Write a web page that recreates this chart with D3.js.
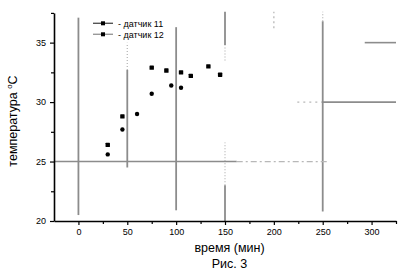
<!DOCTYPE html>
<html>
<head>
<meta charset="utf-8">
<script src="https://cdn.jsdelivr.net/npm/d3@7"></script>
<style>
  body { margin: 0; background: #fff; }
  text { font-family: "Liberation Sans", Arial, sans-serif; fill: #000; }
</style>
</head>
<body>
<div id="chart"></div>
<script>
var series11 = [[30, 26.4], [45, 28.8], [75, 32.9], [90, 32.65], [105, 32.5], [115, 32.2], [133, 33.0], [145, 32.3]];
var series12 = [[30, 25.6], [45, 27.7], [60, 29.0], [75, 30.7], [95, 31.4], [105, 31.2]];
var legendLabels = ['- датчик 11', '- датчик 12'];
var xTicks = [0, 50, 100, 150, 200, 250, 300];
var xMinor = [25, 75, 125, 175, 225, 275, 325];
var yTicks = [20, 25, 30, 35];
var yMinor = [22.5, 27.5, 32.5, 37.5];

// grey reference lines of the scan, in data units
var vLines = [
    { x: 0, from: 20.5, to: 37.1, dash: null },
    { x: 50, from: 24.5, to: 32.7, dash: null },
    { x: 50, from: 32.7, to: 35.0, dash: '1,2' },
    { x: 100, from: 20.9, to: 36.3, dash: null },
    { x: 150, from: 34.8, to: 37.6, dash: null },
    { x: 150, from: 33.5, to: 34.8, dash: '1,2' },
    { x: 150, from: 23.0, to: 26.6, dash: '1,2' },
    { x: 150, from: 20.0, to: 23.0, dash: null },
    { x: 200, from: 36.2, to: 37.6, dash: '2,3' },
    { x: 250, from: 20.8, to: 36.8, dash: null },
    { x: 250, from: 36.8, to: 37.6, dash: '1,2' }
];
var hLines = [
    { y: 25, from: -25, to: 162, dash: null },
    { y: 25, from: 162, to: 257, dash: '6,3,2,3' },
    { y: 30, from: 224, to: 249, dash: '2,4' },
    { y: 30, from: 249, to: 325, dash: null },
    { y: 35, from: 293, to: 325, dash: null }
];

var width = 400, height = 272;

var x = d3.scaleLinear().domain([-25, 325]).range([54, 396]);
var y = d3.scaleLinear().domain([20, 37.5]).range([221, 12.9]);

var svg = d3.select('#chart').append('svg')
            .attr('width', width).attr('height', height);

svg.append('g').selectAll('line').data(vLines).enter()
   .append('line')
   .attr('x1', function(d) { return x(d.x); }).attr('x2', function(d) { return x(d.x); })
   .attr('y1', function(d) { return y(d.from); }).attr('y2', function(d) { return y(d.to); })
   .attr('stroke', function(d) { return d.dash ? '#b8b8b8' : '#8c8c8c'; })
   .attr('stroke-width', function(d) { return d.dash ? 1.3 : 1.8; })
   .attr('stroke-dasharray', function(d) { return d.dash; });

svg.append('g').selectAll('line').data(hLines).enter()
   .append('line')
   .attr('x1', function(d) { return x(d.from); }).attr('x2', function(d) { return x(d.to); })
   .attr('y1', function(d) { return y(d.y); }).attr('y2', function(d) { return y(d.y); })
   .attr('stroke', function(d) { return d.dash ? '#b8b8b8' : '#8c8c8c'; })
   .attr('stroke-width', function(d) { return d.dash ? 1.3 : 1.6; })
   .attr('stroke-dasharray', function(d) { return d.dash; });

// axes
svg.append('g').attr('transform', 'translate(0,' + y(20) + ')')
   .call(d3.axisBottom(x).tickValues(xTicks).tickSize(4).tickSizeOuter(0).tickPadding(4));
svg.append('g').attr('transform', 'translate(0,' + y(20) + ')')
   .call(d3.axisBottom(x).tickValues(xMinor).tickSize(3).tickSizeOuter(0).tickFormat(''))
   .select('.domain').remove();
svg.append('g').attr('transform', 'translate(' + x(-25) + ',0)')
   .call(d3.axisLeft(y).tickValues(yTicks).tickSize(4).tickSizeOuter(0).tickPadding(4));
svg.append('g').attr('transform', 'translate(' + x(-25) + ',0)')
   .call(d3.axisLeft(y).tickValues(yMinor).tickSize(3).tickSizeOuter(0).tickFormat(''))
   .select('.domain').remove();

svg.selectAll('.domain').attr('stroke', '#000').attr('stroke-width', 1.6);
svg.selectAll('.tick line').attr('stroke', '#000').attr('stroke-width', 1.2);
svg.selectAll('.tick text').attr('font-size', 9).attr('font-family', '"Liberation Sans", Arial, sans-serif');

// points
svg.append('g').selectAll('rect').data(series11).enter()
   .append('rect')
   .attr('x', function(d) { return x(d[0]) - 2.2; }).attr('y', function(d) { return y(d[1]) - 2.2; })
   .attr('width', 4.4).attr('height', 4.4).attr('rx', 0.6).attr('fill', '#000');

svg.append('g').selectAll('circle').data(series12).enter()
   .append('circle')
   .attr('cx', function(d) { return x(d[0]); }).attr('cy', function(d) { return y(d[1]); })
   .attr('r', 2.2).attr('fill', '#000');

// legend
var legend = svg.append('g').selectAll('g').data(legendLabels).enter()
                .append('g').attr('transform', function(d, i) { return 'translate(93,' + (23.3 + i * 11) + ')'; });
legend.append('line').attr('x1', 0).attr('x2', 20).attr('y1', 0).attr('y2', 0)
      .attr('stroke', function(d, i) { return i === 0 ? '#555' : '#999'; }).attr('stroke-width', 1.4);
legend.append('rect').attr('x', 8).attr('y', -2).attr('width', 4).attr('height', 4).attr('fill', '#000');
legend.append('text').attr('x', 25).attr('y', 3.2).attr('font-size', 9).text(function(d) { return d; });

// titles
svg.append('text').attr('x', 229.5).attr('y', 252).attr('text-anchor', 'middle')
   .attr('font-size', 12.5).text('время (мин)');
svg.append('text').attr('x', 229.5).attr('y', 268).attr('text-anchor', 'middle')
   .attr('font-size', 12.5).text('Рис. 3');

var yTitle = svg.append('text').attr('transform', 'translate(17,121) rotate(-90)')
                .attr('text-anchor', 'middle').attr('font-size', 12.5);
yTitle.append('tspan').text('температура ');
yTitle.append('tspan').attr('font-size', 8).attr('dy', -5).text('o');
yTitle.append('tspan').attr('dy', 5).text('C');
</script>
</body>
</html>
